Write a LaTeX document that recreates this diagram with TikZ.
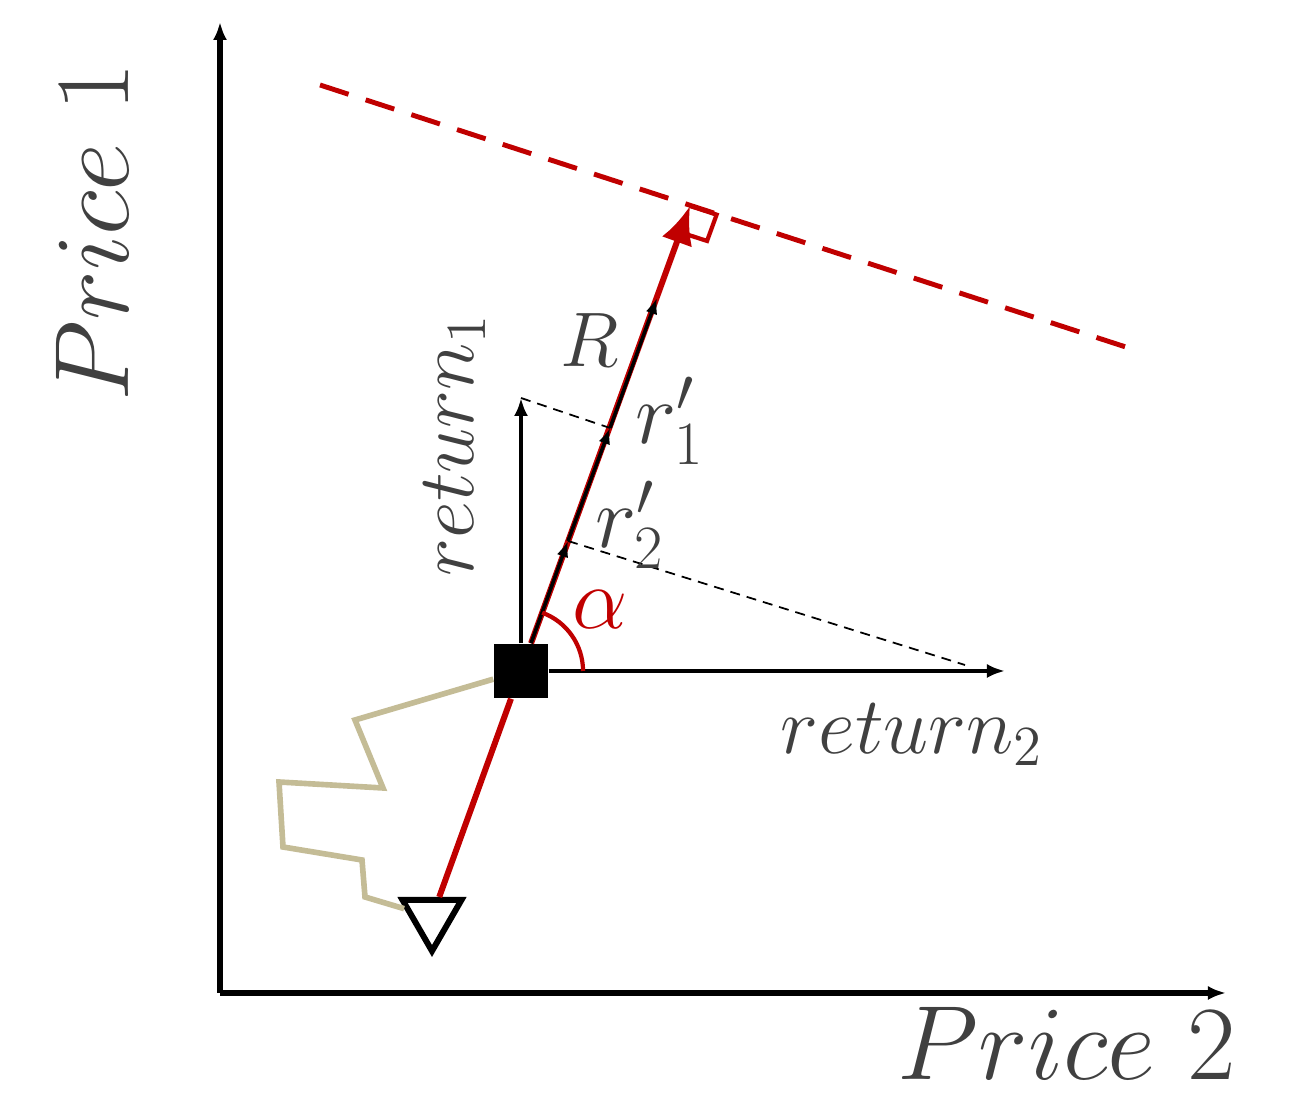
\documentclass[tikz,border=0pt]{standalone}
\usepackage{fix-cm}
\usepackage{tikz}
\usetikzlibrary{shapes.geometric, arrows.meta, positioning, calc}
\definecolor{pricered}{RGB}{192, 0, 0}
\definecolor{pathtan}{RGB}{196, 188, 150}
\definecolor{labelgray}{RGB}{64, 64, 64}

\begin{document}
\begin{tikzpicture}[
    x=0.01cm, y=0.01cm,
    axisline/.style={line width=1.7pt, -{Latex[length=0.18cm, width=0.14cm]}},
    retarrow/.style={line width=1.4pt, -{Latex[length=0.18cm, width=0.14cm]}},
    projline/.style={black, line width=1pt, -{Latex[length=0.16cm, width=0.12cm]}},
    helpline/.style={line width=0.5pt, dash pattern=on 0.1cm off 0.07cm},
    lbl/.style={text=labelgray, inner sep=0pt},
    originbox/.style={rectangle, fill=black, minimum size=0.54cm, inner sep=0pt},
    startmark/.style={regular polygon, regular polygon sides=3, shape border rotate=180, draw=black, fill=white, line width=1.7pt, minimum size=0.68cm, inner sep=0pt}
]
\useasboundingbox (0,0) rectangle (1290,1097);

% axes
\coordinate (ax0) at (220,104);
\coordinate (axy) at (220,1075);
\coordinate (axx) at (1226,104);
\draw[axisline] (ax0) -- (axy);
\draw[axisline] (ax0) -- (axx);
\node[lbl, rotate=90, font=\fontsize{30}{34}\selectfont] (price1) at (92,865) {$Price\ 1$};
\node[lbl, font=\fontsize{30}{34}\selectfont] (price2) at (1067,54) {$Price\ 2$};

% points
\node[startmark] (start) at (432,180) {};
\node[originbox] (o) at (521,426) {};
\coordinate (tip) at (690,891);
\coordinate (p2) at (568,556);
\coordinate (p1) at (610,669);
\coordinate (pR) at (657,799);
\coordinate (r1end) at (521,699);
\coordinate (r2end) at (1005,426);
\coordinate (r2foot) at (965,432);

% indifference line and right angle
\coordinate (dl) at (320,1012);
\coordinate (dr) at (1135,747);
\draw[pricered, line width=1.4pt, dash pattern=on 0.3cm off 0.18cm] (dl) -- (dr);
\draw[pricered, line width=1.2pt] (tip) -- ($(tip)+(-18:28)$) -- ($(tip)+(-18:28)+(250:28)$) -- ($(tip)+(250:28)$);

% price path
\draw[pathtan, line width=1.6pt, line join=miter] (o) -- (355,377) -- (383,309) -- (279,315) -- (283,250) -- (362,237) -- (365,200) -- (start);

% return direction
\draw[pricered, line width=1.7pt] (start) -- (o);
\draw[pricered, line width=1.7pt, -{Latex[length=0.38cm, width=0.32cm]}] (o) -- (tip);
\draw[projline] (o) -- (p2);
\draw[projline] (p2) -- (p1);
\draw[projline] (p1) -- (pR);

% return axes
\draw[retarrow] (o) -- (r1end);
\draw[retarrow] (o) -- (r2end);
\draw[helpline] (r1end) -- (p1);
\draw[helpline] (p2) -- (r2foot);
\draw[pricered, line width=1.2pt] ($(o)+(0.62cm,0)$) arc[start angle=0, end angle=70, radius=0.62cm];

% labels
\node[lbl, rotate=90, font=\fontsize{23}{26}\selectfont] (ret1) at (455,652) {$return_1$};
\node[lbl, font=\fontsize{23}{26}\selectfont] (ret2) at (912,362) {$return_2$};
\node[lbl, font=\fontsize{22}{26}\selectfont] (rlbl) at (590,757) {$R$};
\node[lbl, font=\fontsize{25}{28}\selectfont] (r1lbl) at (670,676) {$r'_1$};
\node[lbl, font=\fontsize{25}{28}\selectfont] (r2lbl) at (630,572) {$r'_2$};
\node[lbl, text=pricered, font=\fontsize{25}{28}\selectfont] (alpha) at (600,487) {$\alpha$};
\end{tikzpicture}
\end{document}
